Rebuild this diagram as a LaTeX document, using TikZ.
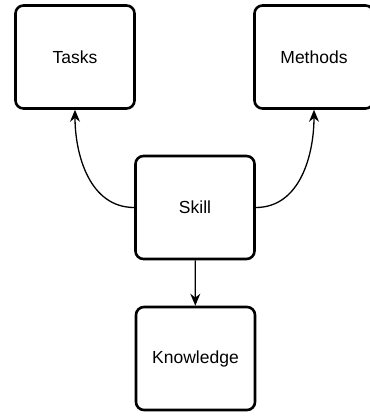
\documentclass[tikz,border=0pt]{standalone}
\usepackage{fontspec}
\setmainfont{Liberation Sans}
\usetikzlibrary{arrows.meta}
\tikzset{box/.style={rectangle,rounded corners=8pt,draw,line width=2.6pt,
    minimum width=119pt,minimum height=103pt,font=\fontsize{17.5}{20}\selectfont}}

\begin{document}
\begin{tikzpicture}[x=1pt,y=1pt,>={Stealth[length=12pt,width=10pt]}]
    \useasboundingbox (0,0) rectangle (370,416);
    \node[box] (S) at (195,208.5) {Skill};
    \node[box] (T) at (75,359) {Tasks};
    \node[box] (M) at (314,359) {Methods};
    \node[box] (K) at (195.5,57.5) {Knowledge};
    \path[->,line width=1.3pt] (S) edge[out=180,in=-90] (T);
    \path[->,line width=1.3pt] (S) edge[out=0,in=-90] (M);
    \path[->,line width=1.3pt] (S) edge (K);
  \end{tikzpicture}
\end{document}
